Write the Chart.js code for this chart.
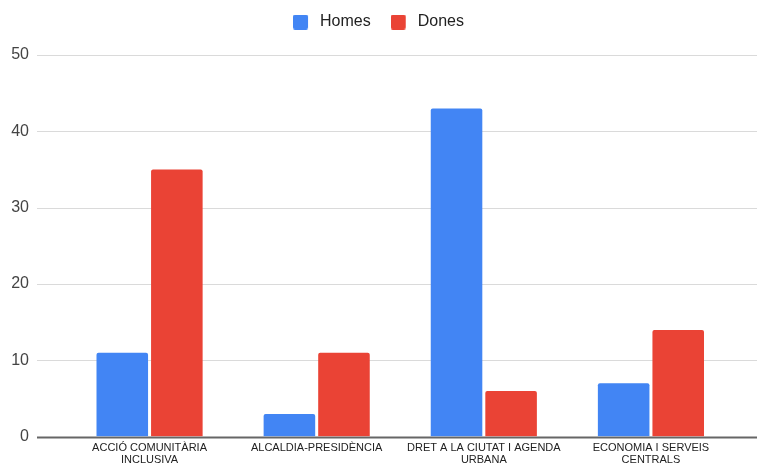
<!DOCTYPE html>
<html>
<head>
<meta charset="utf-8">
<script src="https://cdn.jsdelivr.net/npm/chart.js@4"></script>
<style>
  html, body { margin: 0; padding: 0; background: #fff; overflow: hidden; }
  #wrap { position: relative; width: 757px; height: 463px; }
</style>
</head>
<body>
<div id="wrap"><canvas id="grafica"></canvas></div>
<script>
const categories = [
  ['ACCIÓ COMUNITÀRIA', 'INCLUSIVA'],
  'ALCALDIA-PRESIDÈNCIA',
  ['DRET A LA CIUTAT I AGENDA', 'URBANA'],
  ['ECONOMIA I SERVEIS', 'CENTRALS']
];
const homes = [11, 3, 43, 7];
const dones = [35, 11, 6, 14];
const yTicks = [0, 10, 20, 30, 40, 50];

// quadret de la llegenda amb marge a la dreta
function legendBox(color) {
  const c = document.createElement('canvas');
  c.width = 19; c.height = 15;
  const g = c.getContext('2d');
  g.fillStyle = color;
  g.beginPath();
  if (g.roundRect) g.roundRect(0, 0, 15, 15, 2); else g.rect(0, 0, 15, 15);
  g.fill();
  return c;
}

// linies de la graella a tota l'amplada, com l'original
const gridPlugin = {
  id: 'gridFull',
  beforeDatasetsDraw(chart) {
    const ctx = chart.ctx;
    const y = chart.scales.y;
    ctx.save();
    yTicks.forEach(v => {
      const py = Math.round(y.getPixelForValue(v)) + 0.5;
      ctx.beginPath();
      ctx.strokeStyle = v === 0 ? '#666' : '#dadada';
      ctx.lineWidth = v === 0 ? 2 : 1;
      ctx.moveTo(37, py);
      ctx.lineTo(chart.width, py);
      ctx.stroke();
    });
    ctx.restore();
  }
};

// mes espai sota la llegenda
const legendGap = {
  id: 'legendGap',
  beforeInit(chart) {
    const fit = chart.legend.fit;
    chart.legend.fit = function () {
      fit.bind(chart.legend)();
      this.height += 15;
    };
  }
};

const ctx = document.getElementById('grafica').getContext('2d');
new Chart(ctx, {
  type: 'bar',
  data: {
    labels: categories,
    datasets: [
      { label: 'Homes', data: homes, backgroundColor: '#4285F4', borderRadius: 2,
        pointStyle: legendBox('#4285F4'),
        categoryPercentage: 0.653, barPercentage: 0.945 },
      { label: 'Dones', data: dones, backgroundColor: '#EA4335', borderRadius: 2,
        pointStyle: legendBox('#EA4335'),
        categoryPercentage: 0.653, barPercentage: 0.945 }
    ]
  },
  options: {
    responsive: true,
    maintainAspectRatio: false,
    animation: false,
    layout: { padding: { left: 0, right: 0, top: -6, bottom: -8 } },
    plugins: {
      legend: {
        display: true,
        position: 'top',
        labels: {
          usePointStyle: true, pointStyleWidth: 19,
          boxWidth: 15, boxHeight: 15, padding: 20,
          color: '#222',
          font: { family: 'Liberation Sans, Arial, sans-serif', size: 16 }
        }
      },
      tooltip: { enabled: false }
    },
    scales: {
      x: {
        grid: { display: false, drawTicks: false },
        border: { display: false },
        ticks: {
          color: '#222', maxRotation: 0, autoSkip: false, padding: 5,
          font: { family: 'Liberation Sans, Arial, sans-serif', size: 11, lineHeight: 1.1 }
        }
      },
      y: {
        min: 0, max: 50,
        afterFit: s => { s.width = 66; },
        grid: { display: true, drawOnChartArea: false, drawTicks: true, tickLength: 37, color: 'rgba(0,0,0,0)' },
        border: { display: false },
        ticks: {
          stepSize: 10, padding: 0, color: '#444',
          font: { family: 'Liberation Sans, Arial, sans-serif', size: 16 }
        }
      },
      // marge dret buit
      y2: {
        position: 'right',
        display: true,
        afterFit: s => { s.width = 22.5; },
        grid: { display: false },
        border: { display: false },
        ticks: { display: false }
      }
    }
  },
  plugins: [gridPlugin, legendGap]
});
</script>
</body>
</html>
